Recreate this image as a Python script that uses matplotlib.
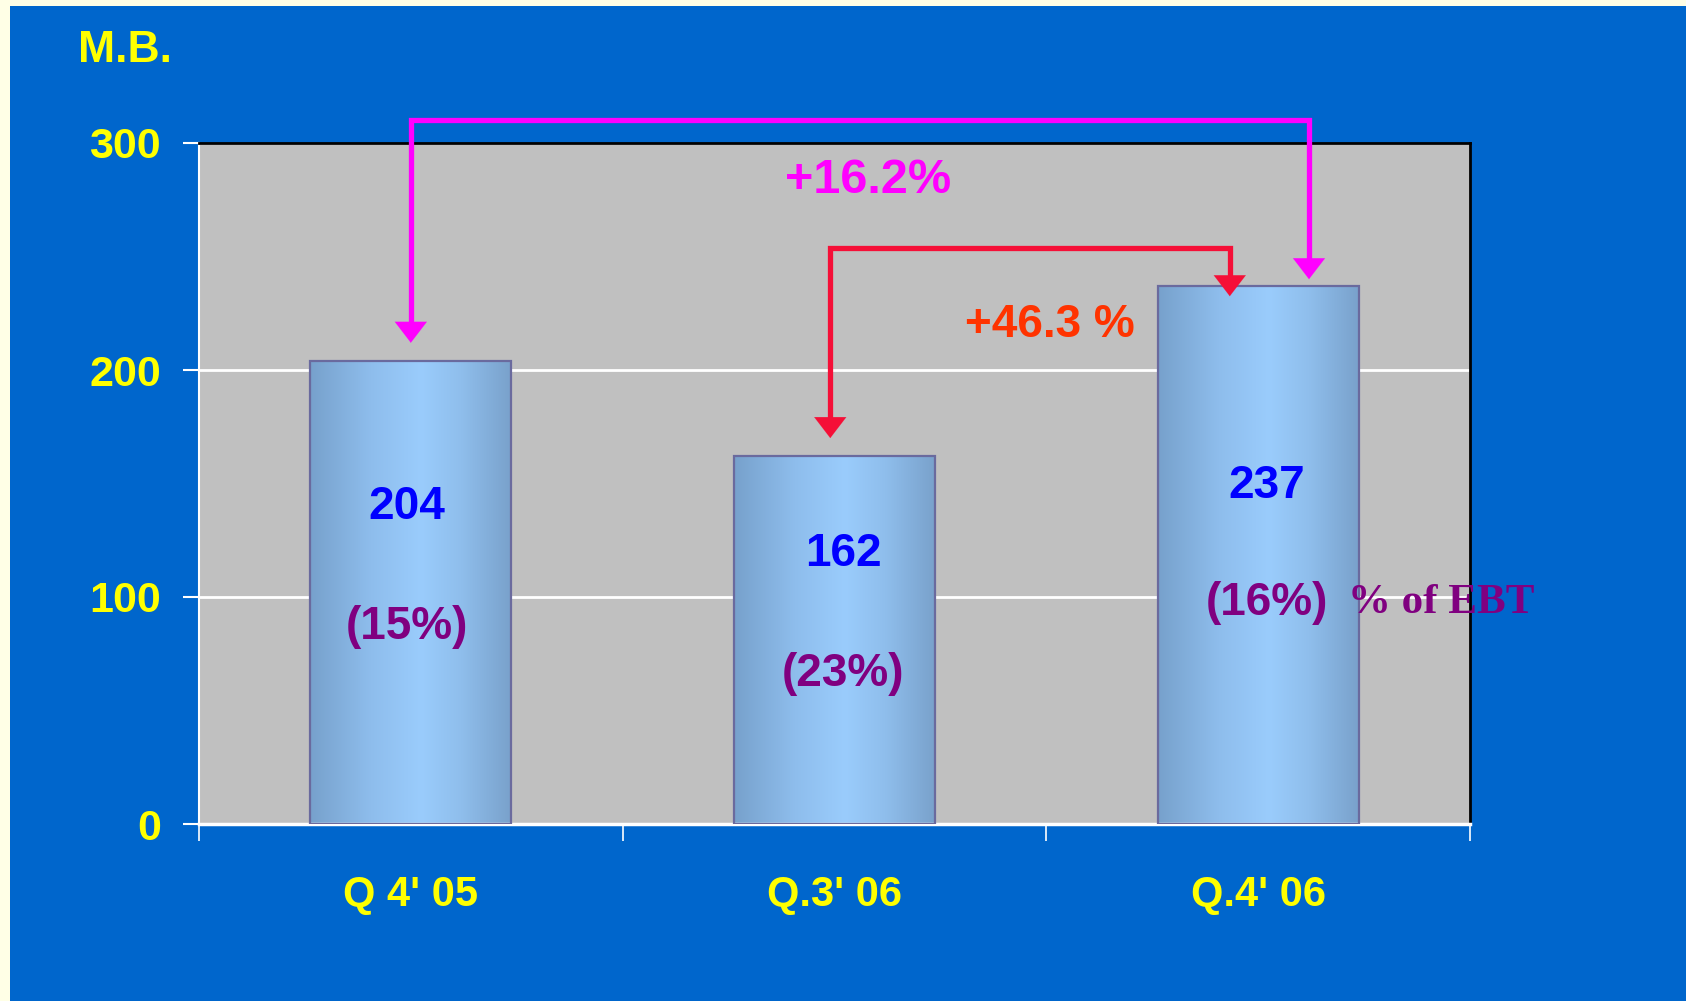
import numpy as np
import matplotlib
matplotlib.use('Agg')
import matplotlib.pyplot as plt
from matplotlib.colors import LinearSegmentedColormap
from matplotlib.patches import Rectangle

# data
quarters = ['Q 4\' 05', 'Q.3\' 06', 'Q.4\' 06']
values = [204, 162, 237]
pct_ebt = ['(15%)', '(23%)', '(16%)']
growth_yoy = '+16.2%'
growth_qoq = '+46.3 %'

# label placement (data y) for the value / percent labels inside the bars
val_y = [139.5, 119, 149]
pct_y = [87, 66, 97.5]
lab_dx = [-0.01, 0.02, 0.02]

plt.rcParams['font.family'] = ['Liberation Sans', 'DejaVu Sans']
plt.rcParams['font.weight'] = 'bold'

fig = plt.figure(figsize=(16.86, 10.01), dpi=100)
fig.patch.set_facecolor('#FFFFE6')
fig.patches.append(Rectangle((10/1686, 0), 1, 1 - 6/1001, transform=fig.transFigure,
                             facecolor='#0066CC', edgecolor='none', zorder=-10))

ax = fig.add_axes([199/1686, 1 - 824/1001, 1271/1686, 681/1001])
ax.set_zorder(1)
ax.set_facecolor('#C0C0C0')

x = np.arange(len(values))
width = 0.475
bars = ax.bar(x, values, width, facecolor='none', edgecolor='#6A6A9E', lw=1.6, zorder=3)

cmap = LinearSegmentedColormap.from_list('bar', [
    (0.0, '#77A1CC'), (0.3, '#8EBDEC'), (0.55, '#9ACCFC'),
    (0.75, '#8FBEEC'), (1.0, '#79A1CB')])
grad = np.linspace(0, 1, 256).reshape(1, -1)
for b in bars:
    x0 = b.get_x()
    im = ax.imshow(grad, extent=[x0, x0 + b.get_width(), 0, b.get_height()],
                   aspect='auto', cmap=cmap, zorder=2, interpolation='bicubic')
    im.set_clip_path(b)

ax.set_xlim(-0.5, 2.5)
ax.set_ylim(0, 300)

ax.set_yticks([0, 100, 200, 300])
ax.tick_params(axis='y', colors='white', labelcolor='#FFFF00', labelsize=31,
               length=11.5, width=1.5, pad=16)
ax.set_xticks(x)
ax.set_xticklabels(quarters)
ax.tick_params(axis='x', which='major', length=0, labelcolor='#FFFF00', labelsize=30, pad=37)
ax.set_xticks([-0.5, 0.5, 1.5, 2.5], minor=True)
ax.tick_params(axis='x', which='minor', colors='white', length=12, width=1.2)

ax.yaxis.grid(True, color='white', lw=2)
ax.set_axisbelow(True)

ax.spines['top'].set_color('black')
ax.spines['top'].set_linewidth(2)
ax.spines['right'].set_color('black')
ax.spines['right'].set_linewidth(2)
ax.spines['left'].set_color('white')
ax.spines['left'].set_linewidth(1.5)
ax.spines['bottom'].set_color('white')
ax.spines['bottom'].set_linewidth(2.5)

for i, v in enumerate(values):
    ax.text(x[i] + lab_dx[i], val_y[i], str(v), ha='center', va='center',
            color='#0000FF', fontsize=33, zorder=5)
    ax.text(x[i] + lab_dx[i], pct_y[i], pct_ebt[i], ha='center', va='center',
            color='#800080', fontsize=33, zorder=5)

ax.text(2.432, 97.5, '% of EBT', ha='center', va='center', color='#800080',
        fontsize=31, family='Liberation Serif', fontweight='bold', zorder=5, clip_on=False)

fig.text(125/1686, 1 - 50/1001, 'M.B.', ha='center', va='center', color='#FFFF00', fontsize=32)


def bracket(xa, ya, xb, yb, ytop, color):
    hl = 14 / 2.27  # head length in data units (approx)
    ax.plot([xa, xa, xb, xb], [ya + hl, ytop, ytop, yb + hl], color=color, lw=3.8,
            clip_on=False, zorder=6, solid_joinstyle='miter')
    for xx, yy in [(xa, ya), (xb, yb)]:
        ax.annotate('', xy=(xx, yy), xytext=(xx, yy + hl + 1),
                    arrowprops=dict(arrowstyle='-|>,head_length=15,head_width=11.5',
                                    mutation_scale=1, color=color, lw=0.1,
                                    shrinkA=0, shrinkB=0),
                    annotation_clip=False, zorder=6)


bracket(0.0, values[0] + 8, 2.12, values[2] + 3, 310, '#FF00FF')
bracket(0.99, values[1] + 8, 1.933, values[2] - 4.5, 253.7, '#F50F37')

ax.text(1.079, 283.5, growth_yoy, ha='center', va='center', color='#FF00FF', fontsize=35, zorder=7)
ax.text(1.508, 220, growth_qoq, ha='center', va='center', color='#FF3300', fontsize=33, zorder=7)

fig.savefig('out.png', dpi=100, facecolor=fig.get_facecolor())
